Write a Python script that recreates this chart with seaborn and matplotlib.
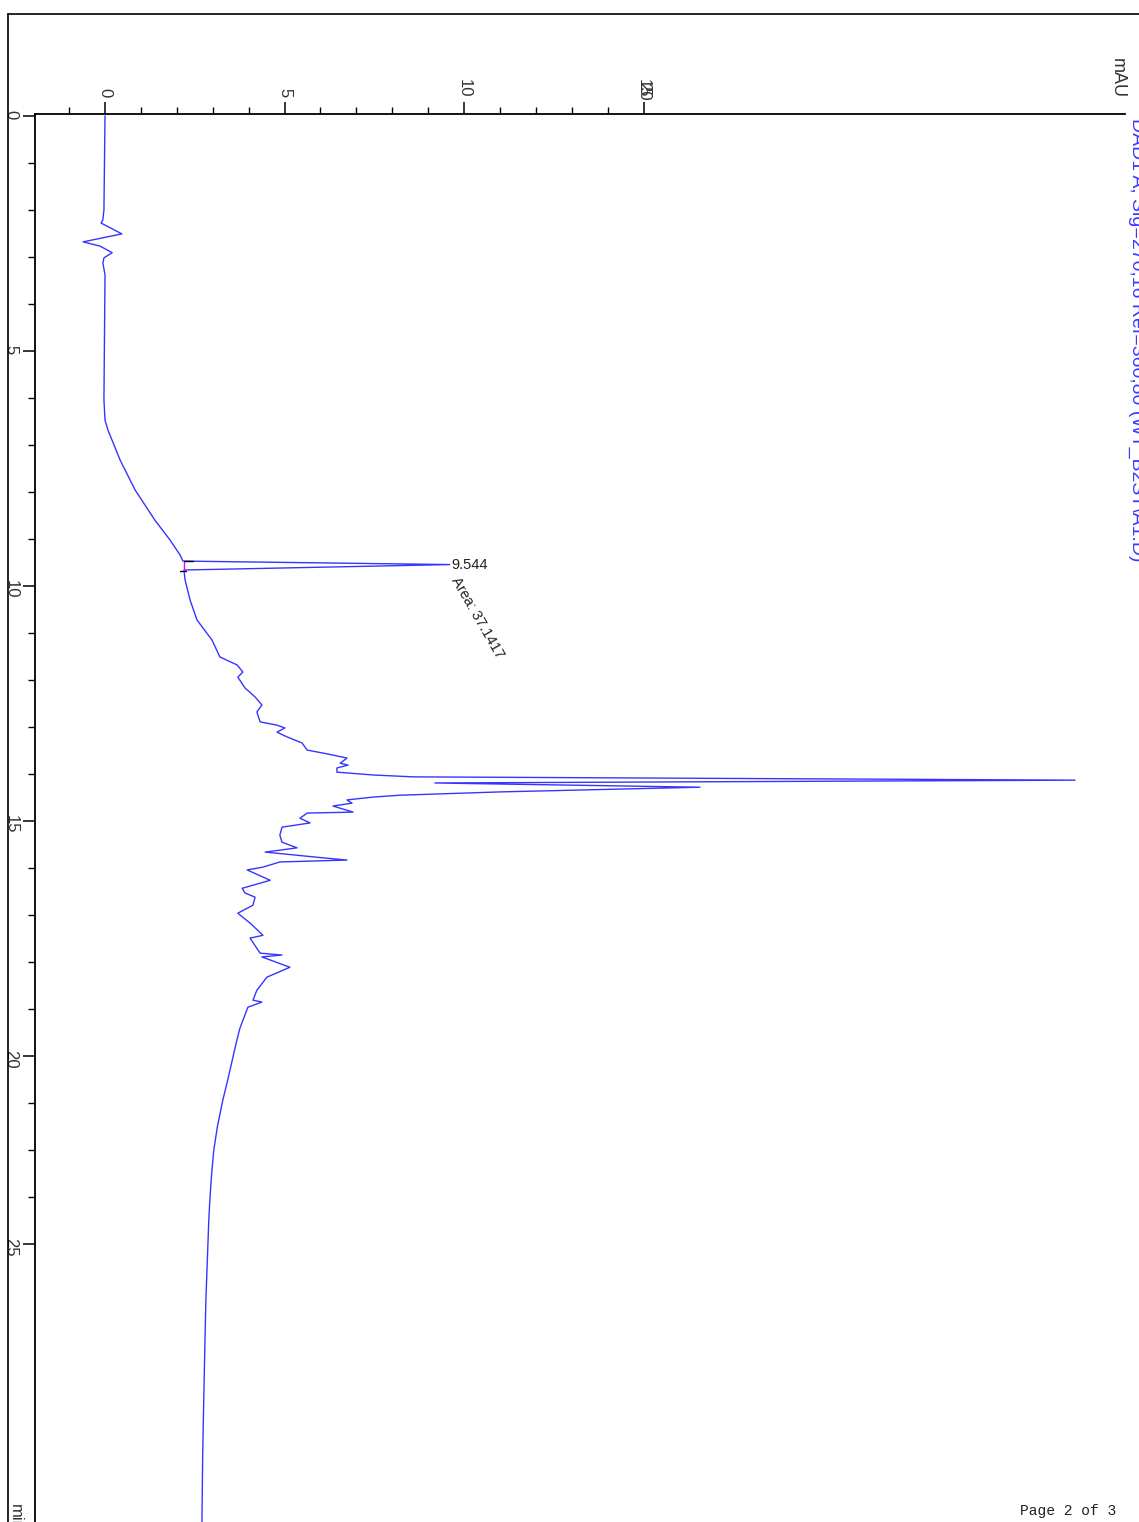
import matplotlib
matplotlib.use('Agg')
import matplotlib.pyplot as plt
import seaborn as sns
import pandas as pd
from matplotlib.lines import Line2D

# retention time (min) and detector signal (mAU)
time_min = [0.00, 2.00, 2.21, 2.28, 2.51, 2.68, 2.77, 2.91, 3.02, 3.13, 3.38,
            6.04, 6.47, 6.68, 7.32, 7.96, 8.60, 9.02, 9.34, 9.47, 9.544, 9.66,
            9.87, 10.30, 10.72, 11.15, 11.51, 11.68, 11.83, 11.94, 12.17, 12.36,
            12.53, 12.68, 12.89, 12.96, 13.02, 13.11, 13.21, 13.34, 13.49, 13.57,
            13.66, 13.77, 13.81, 13.87, 13.96, 14.02, 14.06, 14.13, 14.19, 14.28,
            14.38, 14.45, 14.49, 14.55, 14.62, 14.68, 14.81, 14.83, 14.94, 15.04,
            15.13, 15.30, 15.45, 15.57, 15.66, 15.77, 15.83, 15.87, 15.98, 16.04,
            16.26, 16.43, 16.53, 16.62, 16.79, 16.96, 17.17, 17.43, 17.49, 17.81,
            17.85, 17.89, 18.11, 18.32, 18.60, 18.81, 18.85, 18.96, 19.40, 19.70,
            20.00, 20.50, 20.94, 21.50, 22.00, 22.50, 23.06, 23.50, 24.13, 25.19,
            26.20, 27.32, 28.50, 29.91]
signal_mau = [0.00, -0.03, -0.06, -0.11, 0.47, -0.61, -0.14, 0.20, -0.03, -0.06, 0.00,
              -0.03, 0.00, 0.08, 0.42, 0.84, 1.39, 1.81, 2.09, 2.17, 9.60, 2.20,
              2.23, 2.37, 2.56, 2.98, 3.20, 3.68, 3.84, 3.70, 3.90, 4.18,
              4.37, 4.23, 4.32, 4.79, 5.01, 4.79, 5.07, 5.49, 5.63, 6.18,
              6.74, 6.55, 6.77, 6.46, 6.46, 7.47, 8.58, 27.02, 9.19, 16.57,
              11.00, 8.22, 7.47, 6.74, 6.88, 6.35, 6.91, 5.63, 5.43, 5.71,
              4.93, 4.87, 4.93, 5.35, 4.46, 5.91, 6.74, 4.87, 4.40, 3.96,
              4.60, 3.82, 3.90, 4.18, 4.12, 3.70, 4.04, 4.40, 4.04, 4.32,
              4.93, 4.37, 5.15, 4.51, 4.23, 4.12, 4.37, 3.98, 3.76, 3.66,
              3.57, 3.42, 3.28, 3.13, 3.03, 2.97, 2.92, 2.89, 2.86, 2.81,
              2.78, 2.75, 2.72, 2.70]

peak_rt = 9.544
peak_label = '9.544'
area_label = 'Area: 37.1417'
baseline_t = [9.47, 9.68]
baseline_mau = [2.20, 2.20]

time_tick_pos = [0, 5, 10, 15, 20, 24]
time_tick_labels = ['0', '5', '10', '15', '20', '25']
mau_tick_pos = [0, 5, 10, 15]

signal_title = 'DAD1 A, Sig=270,16 Ref=360,80 (WT_B2ST\\A1.D)'

sns.set_style('white')
plt.rcParams['font.family'] = ['Liberation Sans', 'DejaVu Sans']

W, H = 1139, 1522
fig = plt.figure(figsize=(W / 100, H / 100), dpi=100)
ax = fig.add_axes([35 / W, 0, (1125 - 35) / W, 1 - 114 / H])

df = pd.DataFrame({'time': time_min, 'mAU': signal_mau})
sns.lineplot(data=df, x='mAU', y='time', sort=False, estimator=None,
             orient='y', color='#3535ff', lw=1.0, ax=ax)

# integration baseline + peak markers
ax.plot(baseline_mau, baseline_t, color='#ff00ff', lw=1.0)
ax.plot([2.20, 2.45], [baseline_t[0]] * 2, color='black', lw=1.0)
ax.plot([2.10, 2.25], [baseline_t[1]] * 2, color='black', lw=1.0)

ax.text(9.65, peak_rt, peak_label, fontsize=10.5, ha='left', va='center',
        color='#222222')
ax.text(9.72, 9.83, area_label, fontsize=10.5, ha='left', va='center',
        rotation=-60, rotation_mode='anchor', color='#222222')

ax.set_xlim(-1.95, 28.41)
ax.set_ylim(29.91, -0.04)
ax.set_xlabel('')
ax.set_ylabel('')

ax.xaxis.tick_top()
ax.set_xticks(mau_tick_pos)
ax.set_xticks(range(-1, 15), minor=True)
ax.set_yticks(time_tick_pos, time_tick_labels)
ax.set_yticks(range(0, 24), minor=True)

for side in ['bottom', 'right']:
    ax.spines[side].set_visible(False)
for side in ['top', 'left']:
    ax.spines[side].set_color('black')
    ax.spines[side].set_linewidth(1.3)

ax.tick_params(which='major', length=9, width=1.1, color='black',
               labelsize=12, labelcolor='#333333', pad=3)
ax.tick_params(which='minor', length=5, width=1.0, color='black')
ax.tick_params(axis='x', which='both', top=True, bottom=False, direction='out')
ax.tick_params(axis='y', which='both', left=True, right=False, direction='out')
for lab in ax.get_xticklabels() + ax.get_yticklabels():
    lab.set_rotation(-90)

# overprinted label at the last mAU tick
ax.annotate('20', xy=(15, 1), xycoords=('data', 'axes fraction'),
            xytext=(0, 9.5), textcoords='offset points', rotation=-90,
            ha='center', va='bottom', fontsize=12, color='#333333')

fig.text(1117 / W, 1 - 78 / H, 'mAU', rotation=-90, fontsize=13,
         color='#333333', ha='center', va='center')
fig.text(1128 / W, 1 - 118 / H, signal_title, rotation=-90, fontsize=14,
         color='#3a3aff', ha='left', va='top')
fig.text(15 / W, 1 - 1504 / H, 'min', rotation=-90, fontsize=12,
         color='#333333', ha='center', va='top')
fig.text(1020 / W, 1 - 1511 / H, 'Page 2 of 3', family='Liberation Mono',
         fontsize=10.5, color='#222222', ha='left', va='center')

# page frame
fig.add_artist(Line2D([8 / W, 8 / W], [0, 1 - 14 / H], color='black', lw=1.2))
fig.add_artist(Line2D([8 / W, 1], [1 - 14 / H, 1 - 14 / H], color='black', lw=1.2))

fig.savefig('out.png', dpi=100)
